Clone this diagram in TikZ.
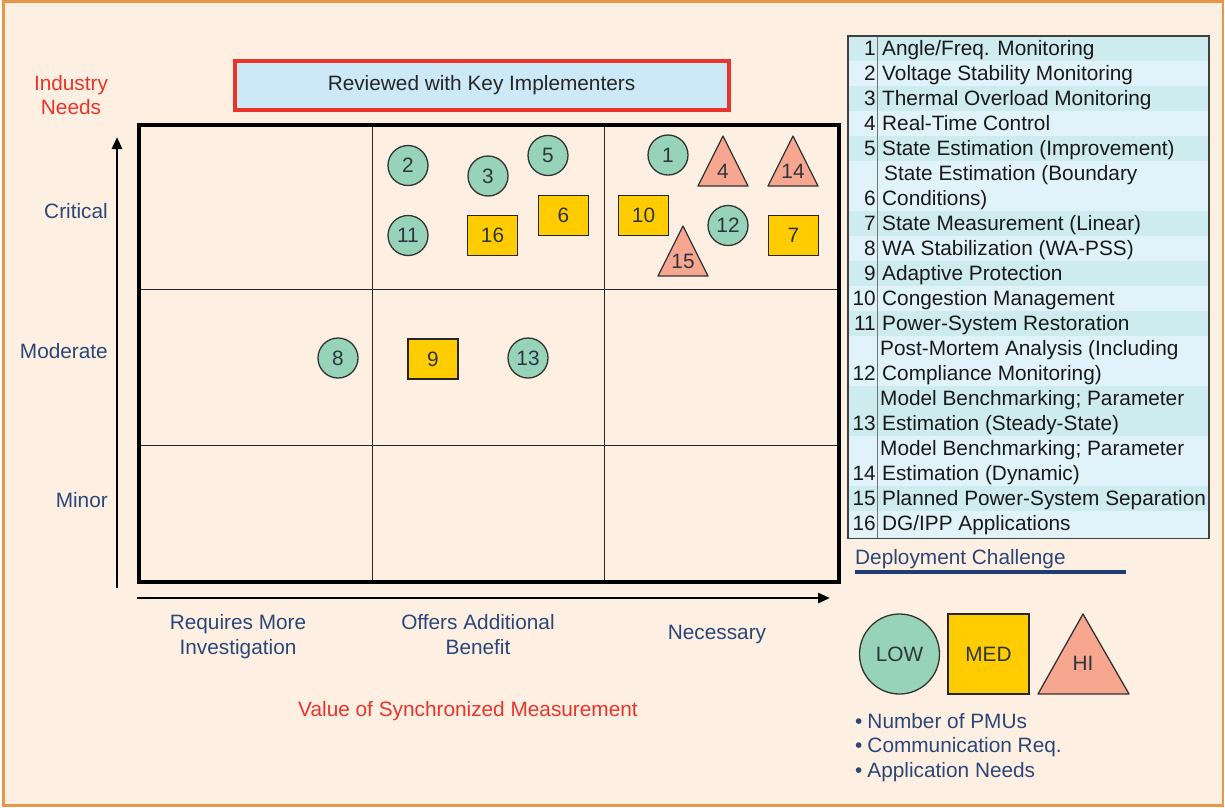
\documentclass[tikz,border=0pt]{standalone}
\usepackage{fontspec}
\setmainfont{Liberation Sans}
\usetikzlibrary{arrows.meta}
\definecolor{bgc}{HTML}{FDF0E3}
\definecolor{framec}{HTML}{E8974A}
\definecolor{lowc}{HTML}{97D3B8}
\definecolor{medc}{HTML}{FFCC00}
\definecolor{hic}{HTML}{F7A78F}
\definecolor{redt}{HTML}{E8352B}
\definecolor{bluet}{HTML}{2B4677}
\definecolor{rowa}{HTML}{CEEBEF}
\definecolor{rowb}{HTML}{E1F3FA}
\definecolor{revfill}{HTML}{CDE9F8}
\definecolor{markt}{HTML}{2F3540}
\definecolor{ulc}{HTML}{1F3D73}
\newcommand\hitri[4]{%
  \draw[him] (#2,#3-25) -- (#2+25,#3+25) -- (#2-25,#3+25) -- cycle;
  \node[txt,text=markt] (#1) at (#2,#3+10) {#4};}
\newcommand\tabrow[3]{%
  \node[txt,anchor=base west,text=black!90] (#1) at (882,{48+25*#2+7.3}) {#3};}
\newcommand\tabnum[3]{%
  \node[txt,anchor=base east,text=black!90] (#1) at (876,{48+25*#2+7.3}) {#3};}
\newcommand\rowbg[3]{%
  \fill[#3] (848,{36+25*#1}) rectangle (1209,{36+25*(#1+#2)});}
\begin{document}
\begin{tikzpicture}[x=1pt,y=-1pt,
  txt/.style={font=\fontsize{20.8}{24.6}\selectfont, inner sep=0pt},
  lowm/.style={circle, draw=black!80, line width=1.3pt, fill=lowc, minimum size=40pt, inner sep=0pt, txt, text=markt},
  medm/.style={rectangle, draw=black!85, line width=1.3pt, fill=medc, minimum width=50pt, minimum height=40pt, inner sep=0pt, txt, text=markt},
  him/.style={draw=black!80, line width=1.3pt, fill=hic, line join=round},
  axl/.style={txt, text=bluet},
  gridl/.style={line width=1pt, draw=black!85},
  axarrow/.style={line width=2.8pt, -{Triangle[length=12pt,width=10pt]}}
]
\useasboundingbox (0,0) rectangle (1225,807);
\fill[white] (0,0) rectangle (1225,807);
\fill[bgc] (3.5,1.5) rectangle (1223,805.5);
\draw[framec, line width=2.5pt] (3.5,1.5) rectangle (1223,805.5);

% grid
\draw[gridl] (372,125) -- (372,582);
\draw[gridl] (604,125) -- (604,582);
\draw[gridl] (138.5,289) -- (838.5,289);
\draw[gridl] (138.5,445) -- (838.5,445);
\draw[line width=4pt] (138.5,125) rectangle (838.5,582);

% reviewed box
\node[draw=redt, line width=4pt, fill=revfill, minimum width=494pt, minimum height=49pt, txt, text=black!85] (rev) at (481.5,85.5) {Reviewed with Key Implementers};

% axes
\coordinate (ya) at (117,588);
\coordinate (yb) at (117,137);
\coordinate (xa) at (137,598);
\coordinate (xb) at (830,598);
\draw[axarrow] (ya) -- (yb);
\draw[axarrow] (xa) -- (xb);

% axis labels
\node[txt, text=redt, align=center] (ind) at (71,95) {Industry\\Needs};
\node[axl, anchor=base east] (crit) at (108,218.3) {Critical};
\node[axl, anchor=base east] (mod) at (108,358.3) {Moderate};
\node[axl, anchor=base east] (min) at (108,507.3) {Minor};
\node[axl, align=center, anchor=base] (req) at (238,654.5) {Requires More\\Investigation};
\node[axl, align=center, anchor=base] (off) at (478,654.5) {Offers Additional\\Benefit};
\node[axl, anchor=base] (nec) at (717,639.3) {Necessary};
\node[txt, text=redt, anchor=base] (vsm) at (468,716.3) {Value of Synchronized Measurement};

% markers
\node[lowm] (m1) at (668,155) {1};
\node[lowm] (m2) at (408,165.5) {2};
\node[lowm] (m3) at (488,176) {3};
\node[lowm] (m5) at (548,155.5) {5};
\node[lowm] (m11) at (408,235.5) {11};
\node[lowm] (m12) at (728,225.5) {12};
\node[lowm] (m8) at (338,358) {8};
\node[lowm] (m13) at (528,358) {13};
\node[medm] (m16) at (492.5,235.5) {16};
\node[medm] (m6) at (563.5,215.5) {6};
\node[medm] (m10) at (643.5,215.5) {10};
\node[medm] (m7) at (793.5,235.5) {7};
\node[medm] (m9) at (433,359) {9};
\hitri{m4}{723}{161}{4}
\hitri{m14}{793}{161}{14}
\hitri{m15}{683}{251}{15}

% table backgrounds
\rowbg{0}{1}{rowa}
\rowbg{1}{1}{rowb}
\rowbg{2}{1}{rowa}
\rowbg{3}{1}{rowb}
\rowbg{4}{1}{rowa}
\rowbg{5}{2}{rowb}
\rowbg{7}{1}{rowa}
\rowbg{8}{1}{rowb}
\rowbg{9}{1}{rowa}
\rowbg{10}{1}{rowb}
\rowbg{11}{1}{rowa}
\rowbg{12}{2}{rowb}
\rowbg{14}{2}{rowa}
\rowbg{16}{2}{rowb}
\rowbg{18}{1}{rowa}
\rowbg{19}{1.1}{rowb}
\draw[black!55, line width=1pt] (877.5,36) -- (877.5,538.5);
\draw[black!75, line width=1.3pt] (848,36) rectangle (1209,538.5);

% table text
\tabnum{n1}{0}{1}   \tabrow{t1}{0}{Angle/Freq. Monitoring}
\tabnum{n2}{1}{2}   \tabrow{t2}{1}{Voltage Stability Monitoring}
\tabnum{n3}{2}{3}   \tabrow{t3}{2}{Thermal Overload Monitoring}
\tabnum{n4}{3}{4}   \tabrow{t4}{3}{Real-Time Control}
\tabnum{n5}{4}{5}   \tabrow{t5}{4}{State Estimation (Improvement)}
\tabrow{t6a}{5}{\kern2pt State Estimation (Boundary}
\tabnum{n6}{6}{6}   \tabrow{t6b}{6}{Conditions)}
\tabnum{n7}{7}{7}   \tabrow{t7}{7}{State Measurement (Linear)}
\tabnum{n8}{8}{8}   \tabrow{t8}{8}{WA Stabilization (WA-PSS)}
\tabnum{n9}{9}{9}   \tabrow{t9}{9}{Adaptive Protection}
\tabnum{n10}{10}{10} \tabrow{t10}{10}{Congestion Management}
\tabnum{n11}{11}{11} \tabrow{t11}{11}{Power-System Restoration}
\tabrow{t12a}{12}{\kern-2pt Post-Mortem Analysis (Including}
\tabnum{n12}{13}{12} \tabrow{t12b}{13}{Compliance Monitoring)}
\tabrow{t13a}{14}{\kern-2pt Model Benchmarking; Parameter}
\tabnum{n13}{15}{13} \tabrow{t13b}{15}{Estimation (Steady-State)}
\tabrow{t14a}{16}{\kern-2pt Model Benchmarking; Parameter}
\tabnum{n14}{17}{14} \tabrow{t14b}{17}{Estimation (Dynamic)}
\tabnum{n15}{18}{15} \tabrow{t15}{18}{Planned Power-System Separation}
\tabnum{n16}{19}{16} \tabrow{t16}{19}{DG/IPP Applications}

% legend
\node[txt, text=bluet, anchor=base west] (dep) at (855,564.3) {Deployment Challenge};
\coordinate (ul1) at (855,572);
\coordinate (ul2) at (1126,572);
\draw[ulc, line width=3.5pt] (ul1) -- (ul2);
\node[lowm, minimum size=80pt] (low) at (899.5,654) {LOW};
\node[medm, minimum width=81pt, minimum height=80pt] (med) at (988.5,654) {MED};
\draw[him] (1083,614) -- (1129,694) -- (1038,694) -- cycle;
\node[txt, text=markt] (hi) at (1083,663) {HI};
\node[txt, text=bluet, anchor=base west] (b1) at (855,728.3) {\textbullet\kern5pt Number of PMUs};
\node[txt, text=bluet, anchor=base west] (b2) at (855,752.3) {\textbullet\kern5pt Communication Req.};
\node[txt, text=bluet, anchor=base west] (b3) at (855,777.3) {\textbullet\kern5pt Application Needs};
\end{tikzpicture}
\end{document}
